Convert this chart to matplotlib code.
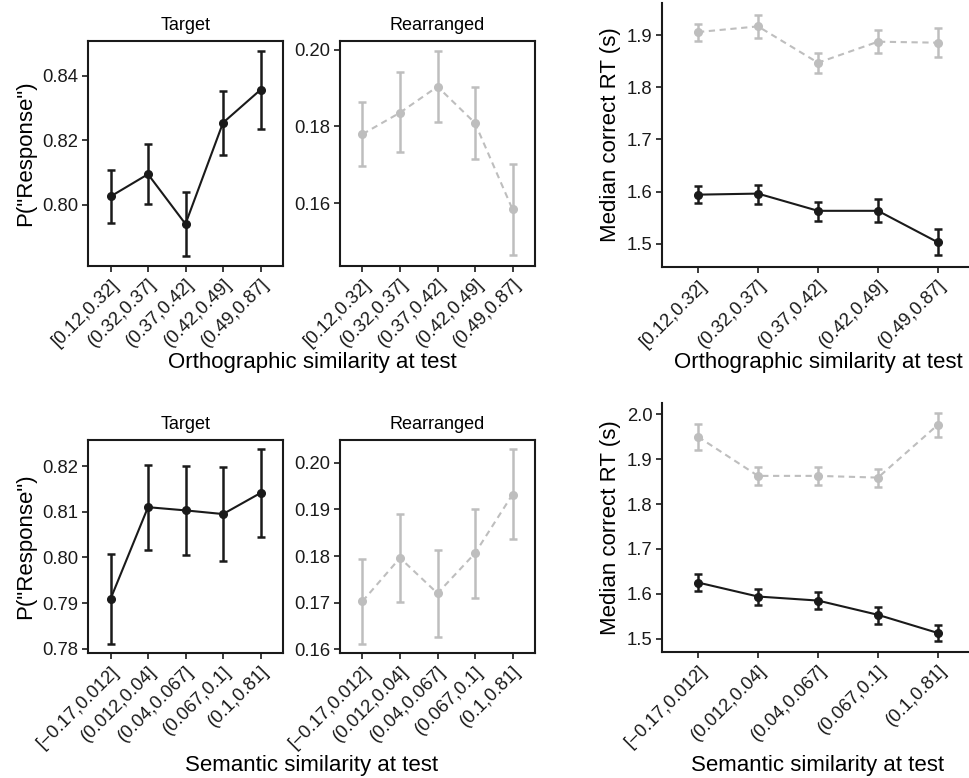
import matplotlib
matplotlib.use('Agg')
import matplotlib.pyplot as plt
from matplotlib.ticker import FormatStrFormatter
import numpy as np

plt.rcParams['font.family'] = ['Liberation Sans', 'DejaVu Sans']

# data
orth_labels = ['[0.12,0.32]', '(0.32,0.37]', '(0.37,0.42]', '(0.42,0.49]', '(0.49,0.87]']
sem_labels = ['[\u22120.17,0.012]', '(0.012,0.04]', '(0.04,0.067]', '(0.067,0.1]', '(0.1,0.81]']

orth_target = [0.8026, 0.8095, 0.7941, 0.8254, 0.8356]
orth_target_lo = [0.7943, 0.8003, 0.7843, 0.8155, 0.8236]
orth_target_hi = [0.8108, 0.8187, 0.8039, 0.8353, 0.8476]

orth_rearr = [0.1780, 0.1836, 0.1904, 0.1809, 0.1584]
orth_rearr_lo = [0.1697, 0.1733, 0.1811, 0.1716, 0.1466]
orth_rearr_hi = [0.1864, 0.1941, 0.1997, 0.1904, 0.1703]

orth_rt_target = [1.594, 1.596, 1.563, 1.563, 1.5025]
orth_rt_target_lo = [1.578, 1.577, 1.544, 1.542, 1.478]
orth_rt_target_hi = [1.610, 1.613, 1.580, 1.585, 1.5275]
orth_rt_rearr = [1.9057, 1.9166, 1.8469, 1.8872, 1.8853]
orth_rt_rearr_lo = [1.889, 1.8943, 1.8272, 1.8648, 1.8576]
orth_rt_rearr_hi = [1.9217, 1.938, 1.866, 1.9096, 1.9128]

sem_target = [0.7909, 0.8110, 0.8103, 0.8095, 0.8141]
sem_target_lo = [0.7810, 0.8016, 0.8005, 0.7992, 0.8044]
sem_target_hi = [0.8008, 0.8202, 0.8200, 0.8198, 0.8237]

sem_rearr = [0.1703, 0.1796, 0.1720, 0.1806, 0.1932]
sem_rearr_lo = [0.1611, 0.1702, 0.1626, 0.1710, 0.1837]
sem_rearr_hi = [0.1794, 0.1891, 0.1812, 0.1901, 0.2029]

sem_rt_target = [1.6252, 1.594, 1.585, 1.5532, 1.5127]
sem_rt_target_lo = [1.606, 1.575, 1.566, 1.5334, 1.4949]
sem_rt_target_hi = [1.6452, 1.611, 1.6045, 1.571, 1.5298]
sem_rt_rearr = [1.950, 1.8628, 1.8628, 1.859, 1.977]
sem_rt_rearr_lo = [1.9214, 1.8428, 1.8435, 1.839, 1.950]
sem_rt_rearr_hi = [1.9777, 1.882, 1.8815, 1.8777, 2.0022]

BLACK = '#1a1a1a'
GREY = '#bebebe'
W, H = 970, 778

fig = plt.figure(figsize=(W / 100, H / 100), dpi=100)


def box(l, t, r, b):
    return [l / W, 1 - b / H, (r - l) / W, (b - t) / H]


def draw(ax, y, lo, hi, color, ls):
    x = np.arange(1, len(y) + 1)
    y = np.array(y)
    err = [y - np.array(lo), np.array(hi) - y]
    ax.errorbar(x, y, yerr=err, color=color, ls=ls, lw=1.5, marker='o', ms=5.5,
                capsize=2.6, elinewidth=1.8, capthick=1.8, dashes=(3, 2.2) if ls == '--' else (None, None))


def style(ax, labels, yticks, fmt, full_box):
    ax.set_xlim(0.4, 5.6)
    ax.set_xticks(np.arange(1, 6))
    ax.set_xticklabels(labels, rotation=45, ha='right', rotation_mode='anchor')
    ax.set_yticks(yticks)
    ax.yaxis.set_major_formatter(FormatStrFormatter(fmt))
    ax.tick_params(direction='out', length=4, width=1.2, labelsize=13.3, colors='#1a1a1a', pad=3)
    for s in ax.spines.values():
        s.set_linewidth(1.5)
        s.set_color('#1a1a1a')
    if not full_box:
        ax.spines['top'].set_visible(False)
        ax.spines['right'].set_visible(False)


# top row: orthographic similarity
ax1 = fig.add_axes(box(88, 41, 283, 266))
draw(ax1, orth_target, orth_target_lo, orth_target_hi, BLACK, '-')
style(ax1, orth_labels, [0.80, 0.82, 0.84], '%.2f', True)
ax1.set_ylim(0.7811, 0.8507)
ax1.set_title('Target', fontsize=13, pad=8)
ax1.set_ylabel('P("Response")', fontsize=16, labelpad=4)

ax2 = fig.add_axes(box(340, 41, 535, 266))
draw(ax2, orth_rearr, orth_rearr_lo, orth_rearr_hi, GREY, '--')
style(ax2, orth_labels, [0.16, 0.18, 0.20], '%.2f', True)
ax2.set_ylim(0.1436, 0.2023)
ax2.set_title('Rearranged', fontsize=13, pad=8)

ax3 = fig.add_axes(box(662, 3, 974, 267))
draw(ax3, orth_rt_rearr, orth_rt_rearr_lo, orth_rt_rearr_hi, GREY, '--')
draw(ax3, orth_rt_target, orth_rt_target_lo, orth_rt_target_hi, BLACK, '-')
style(ax3, orth_labels, [1.5, 1.6, 1.7, 1.8, 1.9], '%.1f', False)
ax3.set_ylim(1.4553, 1.9614)
ax3.set_ylabel('Median correct RT (s)', fontsize=16, labelpad=4)

fig.text(312 / W, 1 - 362 / H, 'Orthographic similarity at test', ha='center', va='center', fontsize=16)
fig.text(818 / W, 1 - 362 / H, 'Orthographic similarity at test', ha='center', va='center', fontsize=16)

# bottom row: semantic similarity
ax4 = fig.add_axes(box(88, 440, 283, 653))
draw(ax4, sem_target, sem_target_lo, sem_target_hi, BLACK, '-')
style(ax4, sem_labels, [0.78, 0.79, 0.80, 0.81, 0.82], '%.2f', True)
ax4.set_ylim(0.7791, 0.8257)
ax4.set_title('Target', fontsize=13, pad=8)
ax4.set_ylabel('P("Response")', fontsize=16, labelpad=4)

ax5 = fig.add_axes(box(340, 440, 535, 653))
draw(ax5, sem_rearr, sem_rearr_lo, sem_rearr_hi, GREY, '--')
style(ax5, sem_labels, [0.16, 0.17, 0.18, 0.19, 0.20], '%.2f', True)
ax5.set_ylim(0.1592, 0.2049)
ax5.set_title('Rearranged', fontsize=13, pad=8)

ax6 = fig.add_axes(box(662, 403, 974, 652))
draw(ax6, sem_rt_rearr, sem_rt_rearr_lo, sem_rt_rearr_hi, GREY, '--')
draw(ax6, sem_rt_target, sem_rt_target_lo, sem_rt_target_hi, BLACK, '-')
style(ax6, sem_labels, [1.5, 1.6, 1.7, 1.8, 1.9, 2.0], '%.1f', False)
ax6.set_ylim(1.4704, 2.0252)
ax6.set_ylabel('Median correct RT (s)', fontsize=16, labelpad=4)

fig.text(312 / W, 1 - 765 / H, 'Semantic similarity at test', ha='center', va='center', fontsize=16)
fig.text(818 / W, 1 - 765 / H, 'Semantic similarity at test', ha='center', va='center', fontsize=16)

fig.savefig('out.png', dpi=100)
